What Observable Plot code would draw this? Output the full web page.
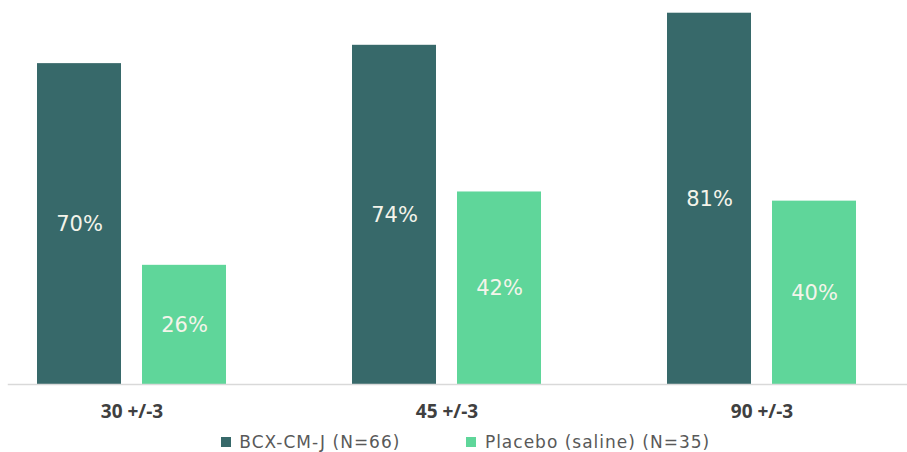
<!DOCTYPE html>
<html><head><meta charset="utf-8">
<script src="https://cdn.jsdelivr.net/npm/d3@7"></script>
<script src="https://cdn.jsdelivr.net/npm/@observablehq/plot@0.6"></script>
<style>
body{margin:0;background:#fff;font-family:"Open Sans",sans-serif}
#legend{display:flex;justify-content:center;width:907px;margin-left:45px}
#legend span{margin-right:66px !important;font-size:17px;letter-spacing:1px;color:#595959;font-family:"DejaVu Sans",sans-serif}
</style>
</head><body><div id="chart"></div><div id="legend"></div><script>
const groups = ["30 +/-3","45 +/-3","90 +/-3"];
const series = ["BCX-CM-J (N=66)","Placebo (saline) (N=35)"];
const bcx = [70,74,81];
const placebo = [26,42,40];
const colors = ["#37696a","#5fd69a"];
const data = groups.flatMap((g,i)=>[
  {group:g, series:series[0], value:bcx[i]},
  {group:g, series:series[1], value:placebo[i]}
]);
const plot = Plot.plot({
  width:907, height:425, marginTop:15, marginBottom:41, marginLeft:36, marginRight:51,
  style:{fontFamily:"Open Sans, sans-serif", background:"#fff"},
  fx:{domain:groups, paddingInner:0.401, paddingOuter:0, label:null, axis:null},
  x:{domain:series, paddingInner:0.2, paddingOuter:0, axis:null},
  y:{domain:[0,80.5], axis:null},
  color:{domain:series, range:colors},
  marks:[
    Plot.barY(data,{fx:"group", x:"series", y:"value", fill:"series"}),
    Plot.text(data,{fx:"group", x:"series", y:d=>d.value/2, text:d=>d.value+"%", fill:"#f4f4ea", fontSize:21, fontFamily:"DejaVu Sans"}),
    Plot.frame({anchor:"bottom", facet:"super", stroke:"#d9d9d9", strokeWidth:1.5, insetLeft:-29, insetRight:-51}),
    Plot.axisFx({anchor:"bottom", tickSize:0, tickPadding:20, fontSize:19, fontWeight:"bold", color:"#404040", label:null})
  ]
});
document.getElementById("chart").append(plot);
const leg = Plot.legend({color:{domain:series, range:colors}, swatchSize:10, style:{fontFamily:"DejaVu Sans, sans-serif", fontSize:"17px", color:"#595959"}});
document.getElementById("legend").append(leg);
</script></body></html>
